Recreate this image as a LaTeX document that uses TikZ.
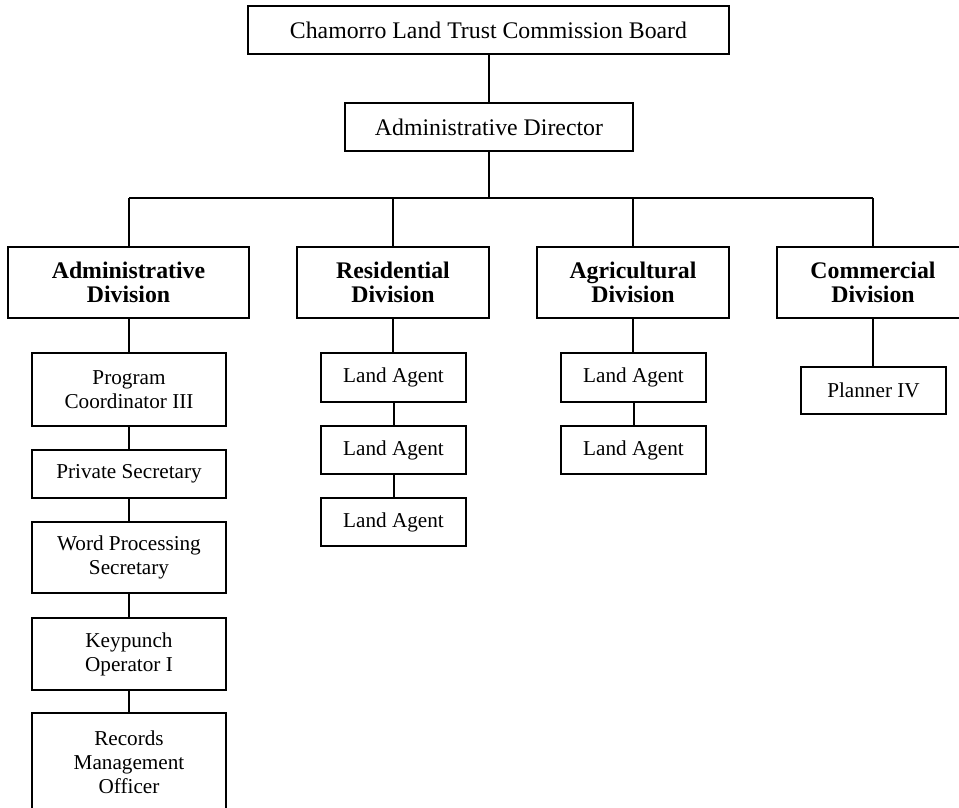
\documentclass[tikz,border=0pt]{standalone}
\usepackage{fontspec}
\setmainfont{Liberation Serif}
\begin{document}
\begin{tikzpicture}[x=0.5pt,y=-0.5pt,
  box/.style={draw=black,line width=1pt,rectangle,inner sep=0pt,align=center,
    font=\fontsize{11.9}{12}\selectfont},
  divbox/.style={box,font=\fontsize{11.9}{12}\selectfont\bfseries},
  staff/.style={box,font=\fontsize{10.6}{12}\selectfont},
  conn/.style={draw=black,line width=1pt}]
\useasboundingbox (0,0) rectangle (959,808);
\clip (0,0) rectangle (959,808);
% top
\node[box,minimum width=240.5pt,minimum height=24pt] (board) at (488.5,30) {Chamorro Land Trust Commission Board};
\node[box,minimum width=144pt,minimum height=24pt] (dir) at (489,127) {Administrative Director};
% divisions
\node[divbox,minimum width=120.5pt,minimum height=35.5pt] (adm) at (128.5,282.5) {Administrative\\Division};
\node[divbox,minimum width=96pt,minimum height=35.5pt] (res) at (393,282.5) {Residential\\Division};
\node[divbox,minimum width=96pt,minimum height=35.5pt] (agr) at (633,282.5) {Agricultural\\Division};
\node[divbox,minimum width=96pt,minimum height=35.5pt] (com) at (873,282.5) {Commercial\\Division};
% administrative staff
\node[staff,minimum width=97pt,minimum height=36.5pt] (pc) at (129,389.5) {Program\\Coordinator III};
\node[staff,minimum width=97pt,minimum height=24pt] (ps) at (129,474) {Private Secretary};
\node[staff,minimum width=97pt,minimum height=35.5pt] (wp) at (129,557.5) {Word Processing\\Secretary};
\node[staff,minimum width=97pt,minimum height=36pt] (ko) at (129,654) {Keypunch\\Operator I};
\node[staff,minimum width=97pt,minimum height=49pt] (rm) at (129,762) {Records\\Management\\Officer};
% residential
\node[staff,minimum width=72.5pt,minimum height=24.5pt] (r1) at (393.5,377.5) {Land Agent};
\node[staff,minimum width=72.5pt,minimum height=24pt] (r2) at (393.5,450) {Land Agent};
\node[staff,minimum width=72.5pt,minimum height=24pt] (r3) at (393.5,522) {Land Agent};
% agricultural
\node[staff,minimum width=72.5pt,minimum height=24.5pt] (a1) at (633.5,377.5) {Land Agent};
\node[staff,minimum width=72.5pt,minimum height=24pt] (a2) at (633.5,450) {Land Agent};
% commercial
\node[staff,minimum width=72.5pt,minimum height=23.5pt] (p4) at (873.5,390.5) {Planner IV};
% connectors
\coordinate (bl) at (129,198);
\coordinate (br) at (873,198);
\draw[conn] (dir.north|-board.south) -- (dir.north);
\draw[conn] (dir.south) -- (dir.south|-bl);
\draw[conn] (bl) -- (br);
\draw[conn] (bl) -- (adm.north-|bl);
\draw[conn] (res.north|-bl) -- (res.north);
\draw[conn] (agr.north|-bl) -- (agr.north);
\draw[conn] (br) -- (com.north-|br);
\draw[conn] (adm.south-|pc.north) -- (pc.north);
\draw[conn] (pc) -- (ps);
\draw[conn] (ps) -- (wp);
\draw[conn] (wp) -- (ko);
\draw[conn] (ko) -- (rm);
\draw[conn] (res.south) -- (r1.north-|res.south);
\draw[conn] (r1) -- (r2);
\draw[conn] (r2) -- (r3);
\draw[conn] (agr.south) -- (a1.north-|agr.south);
\draw[conn] (a1) -- (a2);
\draw[conn] (com.south) -- (p4.north-|com.south);
\end{tikzpicture}
\end{document}
